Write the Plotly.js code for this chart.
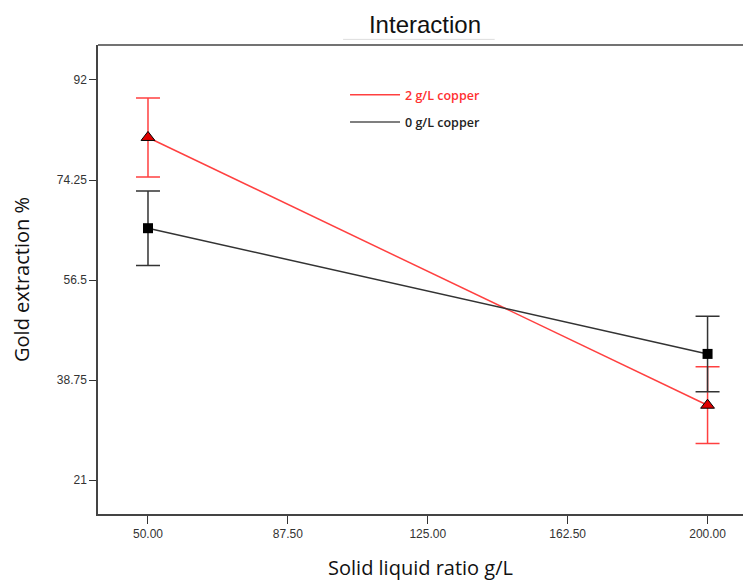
<!DOCTYPE html>
<html>
<head>
<meta charset="utf-8">
<script src="https://cdn.plot.ly/plotly-3.0.1.min.js"></script>
<style>html,body{margin:0;padding:0;background:#fff;}#chart{width:743px;height:581px;}</style>
</head>
<body>
<div id="chart"></div>
<script>
const xValues = [50, 200];
const copper2 = [81.8, 34.3];
const copper2Err = [7.0, 6.8];
const copper0 = [65.7, 43.4];
const copper0Err = [6.6, 6.7];
const seriesNames = ["2 g/L copper", "0 g/L copper"];
const xTicks = [50, 87.5, 125, 162.5, 200];
const xTickLabels = ["50.00", "87.50", "125.00", "162.50", "200.00"];
const yTicks = [21, 38.75, 56.5, 74.25, 92];
const yTickLabels = ["21", "38.75", "56.5", "74.25", "92"];

const red = "#ff4040", dark = "#333333";
const traces = [
  {
    x: xValues, y: copper2, name: seriesNames[0], type: "scatter", mode: "lines+markers", showlegend: false,
    line: {color: red, width: 1.5},
    marker: {symbol: "triangle-up", size: 12, color: "#e00000", line: {color: "#000", width: 1}},
    error_y: {type: "data", array: copper2Err, visible: true, color: red, thickness: 1.5, width: 12}
  },
  {
    x: xValues, y: copper0, name: seriesNames[1], type: "scatter", mode: "lines+markers", showlegend: false,
    line: {color: dark, width: 1.5},
    marker: {symbol: "square", size: 10, color: "#000"},
    error_y: {type: "data", array: copper0Err, visible: true, color: dark, thickness: 1.5, width: 12}
  },
  {x: [null], y: [null], name: seriesNames[0], type: "scatter", mode: "lines", legendgroup: "a", line: {color: red, width: 1.5}},
  {x: [null], y: [null], name: seriesNames[1], type: "scatter", mode: "lines", legendgroup: "b", line: {color: "#555", width: 1.5}}
];

const layout = {
  width: 743, height: 581,
  margin: {l: 98, r: 0, t: 45, b: 67},
  paper_bgcolor: "#fff", plot_bgcolor: "#fff",
  title: {text: "Interaction", font: {family: "Liberation Sans Narrow, Arial Narrow, Liberation Sans, sans-serif", size: 24, color: "#111"}, x: 0.572, xanchor: "center", y: 0.958, yanchor: "middle"},
  xaxis: {
    range: [36.6, 209.5], tickvals: xTicks, ticktext: xTickLabels,
    ticks: "outside", ticklen: 8, tickcolor: "#333", showgrid: false, zeroline: false,
    showline: true, linecolor: "#444", linewidth: 1.5, mirror: false,
    tickfont: {family: "Liberation Sans Narrow, Arial Narrow, sans-serif", size: 12, color: "#333"},
    title: {text: "Solid liquid ratio g/L", font: {family: "Open Sans, Noto Sans, sans-serif", size: 20, color: "#111"}, standoff: 22}
  },
  yaxis: {
    range: [15.0, 98.2], tickvals: yTicks, ticktext: yTickLabels,
    ticks: "outside", ticklen: 7, tickcolor: "#333", showgrid: false, zeroline: false,
    showline: true, linecolor: "#444", linewidth: 1.5, mirror: false,
    tickfont: {family: "Liberation Sans Narrow, Arial Narrow, sans-serif", size: 12, color: "#333"},
    title: {text: "Gold extraction %", font: {family: "Open Sans, Noto Sans, sans-serif", size: 20, color: "#111"}, standoff: 22}
  },
  shapes: [
    {type: "line", xref: "paper", yref: "paper", x0: 0, x1: 1.01, y0: 1, y1: 1, line: {color: "#444", width: 1.5}},
    {type: "line", xref: "paper", yref: "paper", x0: 0.38, x1: 0.615, y0: 1.012, y1: 1.012, line: {color: "#ddd", width: 1}}
  ],
  showlegend: true,
  legend: {x: 0.383, y: 0.925, xanchor: "left", yanchor: "top", bgcolor: "rgba(0,0,0,0)",
    font: {family: "Open Sans, Noto Sans, sans-serif", size: 12.5, weight: 600}, itemwidth: 50,
    traceorder: "grouped", tracegroupgap: 8}
};

Plotly.newPlot("chart", traces, layout, {displayModeBar: false}).then(function(){
  const texts = document.querySelectorAll(".legend .legendtext");
  const cols = ["#ff3030", "#222"];
  texts.forEach((t, i) => { t.style.fill = cols[i]; });
});
</script>
</body>
</html>
